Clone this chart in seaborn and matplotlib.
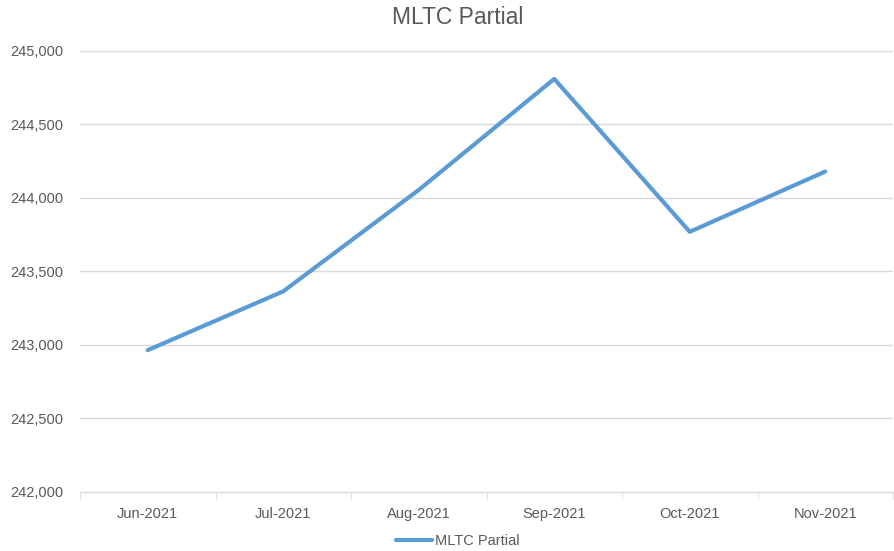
import matplotlib
matplotlib.use("Agg")
import matplotlib.pyplot as plt
import seaborn as sns
import pandas as pd
from matplotlib.ticker import FuncFormatter, FixedLocator

months = ["Jun-2021", "Jul-2021", "Aug-2021", "Sep-2021", "Oct-2021", "Nov-2021"]
mltc_partial = [242965, 243365, 244055, 244810, 243770, 244180]

df = pd.DataFrame({"month": months, "MLTC Partial": mltc_partial})

sns.set_style("white")
plt.rcParams["font.family"] = ["Liberation Sans", "DejaVu Sans"]

text_grey = "#595959"
fig = plt.figure(figsize=(8.94, 5.51), dpi=100)
ax = fig.add_axes([80 / 894, 1 - 492 / 551, 813 / 894, 441 / 551])

sns.lineplot(data=df, x="month", y="MLTC Partial", ax=ax, color="#5B9BD5",
             linewidth=3, label="MLTC Partial", sort=False, legend=False)

ax.set_xlim(-0.5, len(months) - 0.5)
ax.set_ylim(242000, 245000)
ax.set_yticks(range(242000, 245001, 500))
ax.yaxis.set_major_formatter(FuncFormatter(lambda v, p: f"{int(v):,}"))
ax.grid(axis="y", color="#D9D9D9", linewidth=1)
ax.set_axisbelow(True)

# category boundary ticks
ax.xaxis.set_minor_locator(FixedLocator([i - 0.5 for i in range(len(months) + 1)]))
ax.tick_params(axis="x", which="major", length=0, pad=11, labelsize=10.5, labelcolor=text_grey)
ax.tick_params(axis="x", which="minor", length=5, color="#D9D9D9", direction="out", bottom=True)
ax.tick_params(axis="y", length=0, pad=12, labelsize=10.5, labelcolor=text_grey)

for s in ["top", "right", "left"]:
    ax.spines[s].set_visible(False)
ax.spines["bottom"].set_color("#D9D9D9")
ax.set_xlabel("")
ax.set_ylabel("")

fig.text(458 / 894, 1 - 17 / 551, "MLTC Partial", fontsize=16.5, color=text_grey,
         ha="center", va="center")

handles, labels = ax.get_legend_handles_labels()
leg = fig.legend(handles, labels, loc="center", bbox_to_anchor=(458 / 894, 1 - 541 / 551),
                 frameon=False, fontsize=10.5, handlelength=2.5, handletextpad=0.2)
for t in leg.get_texts():
    t.set_color(text_grey)

fig.savefig("out.png", dpi=100)
